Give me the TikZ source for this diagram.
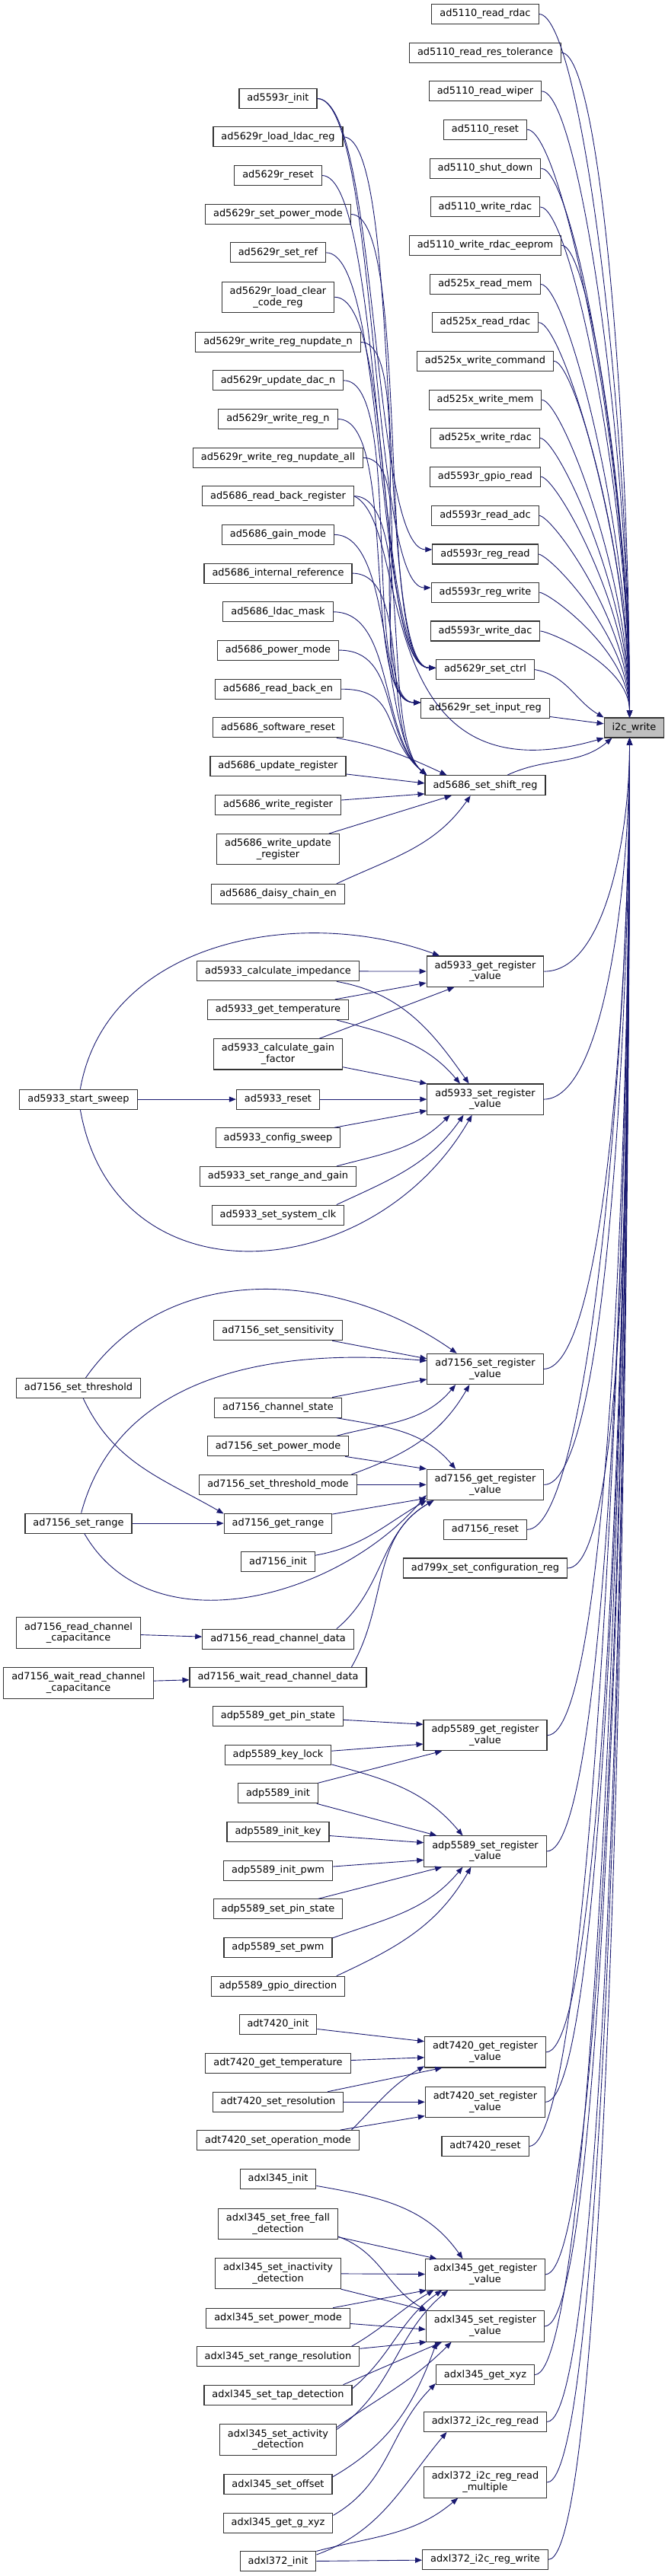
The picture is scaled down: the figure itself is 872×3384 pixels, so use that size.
\documentclass[tikz,border=0pt]{standalone}
\usepackage{fontspec}
\setmainfont{DejaVu Sans}
\usepackage{xcolor}
\usetikzlibrary{arrows.meta}
\definecolor{edgeblue}{RGB}{25,25,112}
\newcommand{\fnsize}{\fontsize{3.225}{3.7}\selectfont}

\begin{document}
\begin{tikzpicture}[x=0.25pt, y=0.25pt,
  fnbox/.style={draw=black!80, line width=0.275pt, fill=white, inner xsep=2.625pt,
                inner ysep=1.575pt, minimum height=6.5pt, align=center, font=\fnsize},
  hubbox/.style={fnbox, fill=black!25},
  arr/.style={draw=edgeblue, line width=0.225pt, -{Triangle[length=2.25pt,width=1.75pt]}},
  toi/.style={out=0, in=90, out looseness=0.15, in looseness=1.1},
  fromb/.style={out=0, in=-90, out distance=20pt, in looseness=1},
  sc/.style={out=0, in=180, distance=20pt}
]
\useasboundingbox (0,0) rectangle (872,-3384);

\node[hubbox] (i2c) at (832.5,-956) {i2c\_write};
\coordinate (itop) at ([xshift=-1.5pt]i2c.north);
\coordinate (ibot) at ([xshift=-1.5pt]i2c.south);

\node[fnbox] (rdac5110) at (637,-18.5) {ad5110\_read\_rdac};
\node[fnbox] (tol5110) at (637,-69.2) {ad5110\_read\_res\_tolerance};
\node[fnbox] (wiper5110) at (637,-119.9) {ad5110\_read\_wiper};
\node[fnbox] (reset5110) at (637,-170.2) {ad5110\_reset};
\node[fnbox] (shut5110) at (637,-221.2) {ad5110\_shut\_down};
\node[fnbox] (wrdac5110) at (637,-271.9) {ad5110\_write\_rdac};
\node[fnbox] (eeprom5110) at (637,-322.2) {ad5110\_write\_rdac\_eeprom};
\node[fnbox] (rmem525) at (637,-373.3) {ad525x\_read\_mem};
\node[fnbox] (rrdac525) at (637,-423.6) {ad525x\_read\_rdac};
\node[fnbox] (wcmd525) at (637,-474.3) {ad525x\_write\_command};
\node[fnbox] (wmem525) at (637,-525.3) {ad525x\_write\_mem};
\node[fnbox] (wrdac525) at (637,-575.5) {ad525x\_write\_rdac};
\node[fnbox] (gpio5593) at (637,-626.2) {ad5593r\_gpio\_read};
\node[fnbox] (adc5593) at (637,-677.3) {ad5593r\_read\_adc};
\node[fnbox] (rreg5593) at (637,-728) {ad5593r\_reg\_read};
\node[fnbox] (wreg5593) at (637,-778.3) {ad5593r\_reg\_write};
\node[fnbox] (dac5593) at (637,-829) {ad5593r\_write\_dac};
\node[fnbox] (ctrl5629) at (637,-879.6) {ad5629r\_set\_ctrl};
\node[fnbox] (input5629) at (637,-930.3) {ad5629r\_set\_input\_reg};
\node[fnbox] (shift5686) at (637,-1031.7) {ad5686\_set\_shift\_reg};
\node[fnbox] (greg5933) at (637,-1276.1) {ad5933\_get\_register\\\_value};
\node[fnbox] (sreg5933) at (637,-1444.1) {ad5933\_set\_register\\\_value};
\node[fnbox] (sreg7156) at (637,-1798.4) {ad7156\_set\_register\\\_value};
\node[fnbox] (greg7156) at (637,-1950.4) {ad7156\_get\_register\\\_value};
\node[fnbox] (reset7156) at (637,-2009.3) {ad7156\_reset};
\node[fnbox] (conf799x) at (637,-2060) {ad799x\_set\_configuration\_reg};
\node[fnbox] (greg5589) at (637,-2279.6) {adp5589\_get\_register\\\_value};
\node[fnbox] (sreg5589) at (637,-2432) {adp5589\_set\_register\\\_value};
\node[fnbox] (greg7420) at (637,-2695.8) {adt7420\_get\_register\\\_value};
\node[fnbox] (sreg7420) at (637,-2761.3) {adt7420\_set\_register\\\_value};
\node[fnbox] (reset7420) at (637,-2819.5) {adt7420\_reset};
\node[fnbox] (greg345) at (637,-2987.9) {adxl345\_get\_register\\\_value};
\node[fnbox] (sreg345) at (637,-3055.9) {adxl345\_set\_register\\\_value};
\node[fnbox] (xyz345) at (637,-3119.6) {adxl345\_get\_xyz};
\node[fnbox] (rd372) at (637,-3181.4) {adxl372\_i2c\_reg\_read};
\node[fnbox] (rdm372) at (637,-3260.9) {adxl372\_i2c\_reg\_read\\\_multiple};
\node[fnbox] (wr372) at (637,-3362.3) {adxl372\_i2c\_reg\_write};

\node[fnbox] (init5593) at (365,-129.5) {ad5593r\_init};
\node[fnbox] (ldac5629) at (365,-179.8) {ad5629r\_load\_ldac\_reg};
\node[fnbox] (reset5629) at (365,-230.5) {ad5629r\_reset};
\node[fnbox] (power5629) at (365,-281.5) {ad5629r\_set\_power\_mode};
\node[fnbox] (ref5629) at (365,-331.9) {ad5629r\_set\_ref};
\node[fnbox] (clear5629) at (365,-390.3) {ad5629r\_load\_clear\\\_code\_reg};
\node[fnbox] (wnupn5629) at (365,-449.5) {ad5629r\_write\_reg\_nupdate\_n};
\node[fnbox] (upd5629) at (365,-499.8) {ad5629r\_update\_dac\_n};
\node[fnbox] (wregn5629) at (365,-550.5) {ad5629r\_write\_reg\_n};
\node[fnbox] (wnupa5629) at (365,-601.4) {ad5629r\_write\_reg\_nupdate\_all};
\node[fnbox] (rbreg5686) at (365,-651.7) {ad5686\_read\_back\_register};
\node[fnbox] (gain5686) at (365,-702.4) {ad5686\_gain\_mode};
\node[fnbox] (iref5686) at (365,-753.1) {ad5686\_internal\_reference};
\node[fnbox] (ldac5686) at (365,-803.8) {ad5686\_ldac\_mask};
\node[fnbox] (power5686) at (365,-854.1) {ad5686\_power\_mode};
\node[fnbox] (rben5686) at (365,-905.2) {ad5686\_read\_back\_en};
\node[fnbox] (swr5686) at (365,-955.9) {ad5686\_software\_reset};
\node[fnbox] (upd5686) at (365,-1006.5) {ad5686\_update\_register};
\node[fnbox] (wreg5686) at (365,-1057.2) {ad5686\_write\_register};
\node[fnbox] (wupd5686) at (365,-1115.7) {ad5686\_write\_update\\\_register};
\node[fnbox] (daisy5686) at (365,-1174.4) {ad5686\_daisy\_chain\_en};
\node[fnbox] (imp5933) at (365,-1275.8) {ad5933\_calculate\_impedance};
\node[fnbox] (temp5933) at (365,-1326.4) {ad5933\_get\_temperature};
\node[fnbox] (gain5933) at (365,-1384.9) {ad5933\_calculate\_gain\\\_factor};
\node[fnbox] (reset5933) at (365,-1444.1) {ad5933\_reset};
\node[fnbox] (conf5933) at (365,-1494.8) {ad5933\_config\_sweep};
\node[fnbox] (range5933) at (365,-1545.5) {ad5933\_set\_range\_and\_gain};
\node[fnbox] (clk5933) at (365,-1596.1) {ad5933\_set\_system\_clk};
\node[fnbox] (sens7156) at (365,-1747.7) {ad7156\_set\_sensitivity};
\node[fnbox] (chan7156) at (365,-1849.1) {ad7156\_channel\_state};
\node[fnbox] (power7156) at (365,-1899.8) {ad7156\_set\_power\_mode};
\node[fnbox] (thm7156) at (365,-1950.4) {ad7156\_set\_threshold\_mode};
\node[fnbox] (grange7156) at (365,-2001.1) {ad7156\_get\_range};
\node[fnbox] (init7156) at (365,-2051.8) {ad7156\_init};
\node[fnbox] (rcd7156) at (365,-2153.2) {ad7156\_read\_channel\_data};
\node[fnbox] (wrcd7156) at (365,-2203.5) {ad7156\_wait\_read\_channel\_data};
\node[fnbox] (pin5589) at (365,-2254.4) {adp5589\_get\_pin\_state};
\node[fnbox] (lock5589) at (365,-2305.5) {adp5589\_key\_lock};
\node[fnbox] (init5589) at (365,-2355.8) {adp5589\_init};
\node[fnbox] (key5589) at (365,-2406.5) {adp5589\_init\_key};
\node[fnbox] (pwm5589) at (365,-2457.2) {adp5589\_init\_pwm};
\node[fnbox] (spin5589) at (365,-2507.9) {adp5589\_set\_pin\_state};
\node[fnbox] (spwm5589) at (365,-2558.5) {adp5589\_set\_pwm};
\node[fnbox] (gpio5589) at (365,-2609.2) {adp5589\_gpio\_direction};
\node[fnbox] (init7420) at (365,-2659.5) {adt7420\_init};
\node[fnbox] (temp7420) at (365,-2710.2) {adt7420\_get\_temperature};
\node[fnbox] (res7420) at (365,-2761.3) {adt7420\_set\_resolution};
\node[fnbox] (mode7420) at (365,-2811.6) {adt7420\_set\_operation\_mode};
\node[fnbox] (init345) at (365,-2862.5) {adxl345\_init};
\node[fnbox] (ff345) at (365,-2921.3) {adxl345\_set\_free\_fall\\\_detection};
\node[fnbox] (inact345) at (365,-2986.4) {adxl345\_set\_inactivity\\\_detection};
\node[fnbox] (power345) at (365,-3045.2) {adxl345\_set\_power\_mode};
\node[fnbox] (range345) at (365,-3095.9) {adxl345\_set\_range\_resolution};
\node[fnbox] (tap345) at (365,-3146.2) {adxl345\_set\_tap\_detection};
\node[fnbox] (act345) at (365,-3205) {adxl345\_set\_activity\\\_detection};
\node[fnbox] (off345) at (365,-3263.9) {adxl345\_set\_offset};
\node[fnbox] (gxyz345) at (365,-3314.5) {adxl345\_get\_g\_xyz};
\node[fnbox] (init372) at (365,-3364.9) {adxl372\_init};

\node[fnbox] (sweep5933) at (103,-1444.1) {ad5933\_start\_sweep};
\node[fnbox] (thr7156) at (103,-1823.5) {ad7156\_set\_threshold};
\node[fnbox] (srange7156) at (103,-2001.1) {ad7156\_set\_range};
\node[fnbox] (rcc7156) at (103,-2145) {ad7156\_read\_channel\\\_capacitance};
\node[fnbox] (wrcc7156) at (103,-2210.9) {ad7156\_wait\_read\_channel\\\_capacitance};

% callers above i2c_write
\draw[arr] (rdac5110) to[toi] (itop);
\draw[arr] (tol5110) to[toi] (itop);
\draw[arr] (wiper5110) to[toi] (itop);
\draw[arr] (reset5110) to[toi] (itop);
\draw[arr] (shut5110) to[toi] (itop);
\draw[arr] (wrdac5110) to[toi] (itop);
\draw[arr] (eeprom5110) to[toi] (itop);
\draw[arr] (rmem525) to[toi] (itop);
\draw[arr] (rrdac525) to[toi] (itop);
\draw[arr] (wcmd525) to[toi] (itop);
\draw[arr] (wmem525) to[toi] (itop);
\draw[arr] (wrdac525) to[toi] (itop);
\draw[arr] (gpio5593) to[toi] (itop);
\draw[arr] (adc5593) to[toi] (itop);
\draw[arr] (rreg5593) to[toi] (itop);
\draw[arr] (wreg5593) to[toi] (itop);
\draw[arr] (dac5593) to[toi] (itop);
\draw[arr] (ctrl5629.east) to[out=-10,in=150] (i2c.north west);
\draw[arr] (input5629) -- (i2c);
\draw[arr] (shift5686) to[out=25,in=-140] (i2c.205);
\draw[arr] (rbreg5686.east) .. controls +(78,-38) and +(-314,-90) .. (i2c.south west);

% callers below i2c_write
\draw[arr] (greg5933) to[fromb] (ibot);
\draw[arr] (sreg5933) to[fromb] (ibot);
\draw[arr] (sreg7156) to[fromb] (ibot);
\draw[arr] (greg7156) to[fromb] (ibot);
\draw[arr] (reset7156) to[fromb] (ibot);
\draw[arr] (conf799x) to[fromb] (ibot);
\draw[arr] (greg5589) to[fromb] (ibot);
\draw[arr] (sreg5589) to[fromb] (ibot);
\draw[arr] (greg7420) to[fromb] (ibot);
\draw[arr] (sreg7420) to[fromb] (ibot);
\draw[arr] (reset7420) to[fromb] (ibot);
\draw[arr] (greg345) to[fromb] (ibot);
\draw[arr] (sreg345) to[fromb] (ibot);
\draw[arr] (xyz345) to[fromb] (ibot);
\draw[arr] (rd372) to[fromb] (ibot);
\draw[arr] (rdm372) to[fromb] (ibot);
\draw[arr] (wr372) to[fromb] (ibot);

% ad5593r / ad5629r / ad5686
\draw[arr] (init5593) to[sc] (rreg5593.175);
\draw[arr] (init5593) to[sc] (wreg5593.175);
\draw[arr] (ldac5629) to[sc] (ctrl5629.178);
\draw[arr] (reset5629) to[sc] (ctrl5629.178);
\draw[arr] (power5629) to[sc] (ctrl5629.178);
\draw[arr] (ref5629) to[sc] (ctrl5629.178);
\draw[arr] (clear5629) to[sc] (ctrl5629.178);
\draw[arr] (wnupn5629) to[sc] (input5629.175);
\draw[arr] (upd5629) to[sc] (input5629.175);
\draw[arr] (wregn5629) to[sc] (input5629.175);
\draw[arr] (wnupa5629) to[sc] (input5629.175);
\draw[arr] (rbreg5686) to[sc, in=140] (shift5686.170);
\draw[arr] (gain5686) to[sc, in=140] (shift5686.170);
\draw[arr] (iref5686) to[sc, in=140] (shift5686.170);
\draw[arr] (ldac5686) to[sc, in=140] (shift5686.170);
\draw[arr] (power5686) to[sc, in=140] (shift5686.170);
\draw[arr] (rben5686) to[sc, in=140] (shift5686.170);
\draw[arr] (swr5686) to[out=-10,in=155] (shift5686.165);
\draw[arr] (upd5686) -- (shift5686.178);
\draw[arr] (wreg5686) -- (shift5686.188);
\draw[arr] (wupd5686) -- (shift5686.197);
\draw[arr] (daisy5686.10) to[out=25,in=-125] (shift5686.215);

% ad5933
\draw[arr] (sweep5933) to[out=80,in=160] (greg5933.161);
\draw[arr] (sweep5933) -- (reset5933);
\draw[arr] (sweep5933) to[out=-80,in=-120,looseness=1.3] (sreg5933.230);
\draw[arr] (imp5933) -- (greg5933);
\draw[arr] (imp5933.-10) to[out=-10,in=125] (sreg5933.136);
\draw[arr] (temp5933) -- (greg5933.191);
\draw[arr] (temp5933.-10) to[out=-15,in=130] (sreg5933.148);
\draw[arr] (gain5933) -- (greg5933.207);
\draw[arr] (gain5933) -- (sreg5933.165);
\draw[arr] (reset5933) -- (sreg5933);
\draw[arr] (conf5933) -- (sreg5933.191);
\draw[arr] (range5933.10) to[out=15,in=-135] (sreg5933.204);
\draw[arr] (clk5933.10) to[out=25,in=-125] (sreg5933.216);

% ad7156
\draw[arr] (thr7156) to[out=55,in=145] (sreg7156.151);
\draw[arr] (thr7156) to[out=-65,in=150] (grange7156.170);
\draw[arr] (sens7156) -- (sreg7156.170);
\draw[arr] (srange7156) to[out=75,in=175] (sreg7156.172);
\draw[arr] (chan7156) -- (sreg7156.190);
\draw[arr] (chan7156.-10) to[out=-10,in=130] (greg7156.152);
\draw[arr] (power7156.10) to[out=15,in=-130] (sreg7156.208);
\draw[arr] (power7156) -- (greg7156.165);
\draw[arr] (thm7156.8) to[out=20,in=-120] (sreg7156.225);
\draw[arr] (thm7156) -- (greg7156);
\draw[arr] (grange7156) -- (greg7156.193);
\draw[arr] (srange7156) -- (grange7156);
\draw[arr] (srange7156) to[out=-60,in=-130] (greg7156.190);
\draw[arr] (init7156) to[out=10,in=-150] (greg7156.195);
\draw[arr] (rcd7156.10) to[out=40,in=-150] (greg7156.197);
\draw[arr] (wrcd7156.8) to[out=60,in=-150] (greg7156.197);
\draw[arr] (rcc7156) -- (rcd7156);
\draw[arr] (wrcc7156) -- (wrcd7156);

% adp5589
\draw[arr] (pin5589) -- (greg5589.170);
\draw[arr] (lock5589) -- (greg5589.188);
\draw[arr] (lock5589.-10) to[out=-15,in=130] (sreg5589.145);
\draw[arr] (init5589) -- (greg5589.200);
\draw[arr] (init5589) -- (sreg5589.162);
\draw[arr] (key5589) -- (sreg5589.172);
\draw[arr] (pwm5589) -- (sreg5589.188);
\draw[arr] (spin5589) -- (sreg5589.200);
\draw[arr] (spwm5589.10) to[out=20,in=-130] (sreg5589.215);
\draw[arr] (gpio5589.10) to[out=25,in=-120] (sreg5589.228);

% adt7420
\draw[arr] (init7420) -- (greg7420.170);
\draw[arr] (temp7420) -- (greg7420.185);
\draw[arr] (res7420) -- (greg7420.200);
\draw[arr] (res7420) -- (sreg7420);
\draw[arr] (mode7420.8) to[out=45,in=-150] (greg7420.193);
\draw[arr] (mode7420) -- (sreg7420.193);

% adxl345 / adxl372
\draw[arr] (init345.-10) to[out=-10,in=125] (greg345.145);
\draw[arr] (ff345) -- (greg345.162);
\draw[arr] (ff345.-12) to[out=-20,in=150] (sreg345.165);
\draw[arr] (inact345) -- (greg345);
\draw[arr] (inact345) -- (sreg345.165);
\draw[arr] (power345) -- (greg345.195);
\draw[arr] (power345) -- (sreg345.183);
\draw[arr] (range345.8) to[out=30,in=-150] (greg345.197);
\draw[arr] (range345) -- (sreg345.195);
\draw[arr] (tap345.5) to[out=40,in=-145] (greg345.200);
\draw[arr] (tap345.9) -- (sreg345.200);
\draw[arr] (act345.10) to[out=35,in=-140] (greg345.203);
\draw[arr] (act345.12) to[out=35,in=-135] (sreg345.205);
\draw[arr] (off345.8) to[out=30,in=-110] (sreg345.198);
\draw[arr] (gxyz345.8) to[out=30,in=-135] (xyz345.190);
\draw[arr] (init372.10) to[out=20,in=-130] (rd372.195);
\draw[arr] (init372.15) to[out=15,in=-140] (rdm372.210);
\draw[arr] (init372) -- (wr372);
\end{tikzpicture}
\end{document}
